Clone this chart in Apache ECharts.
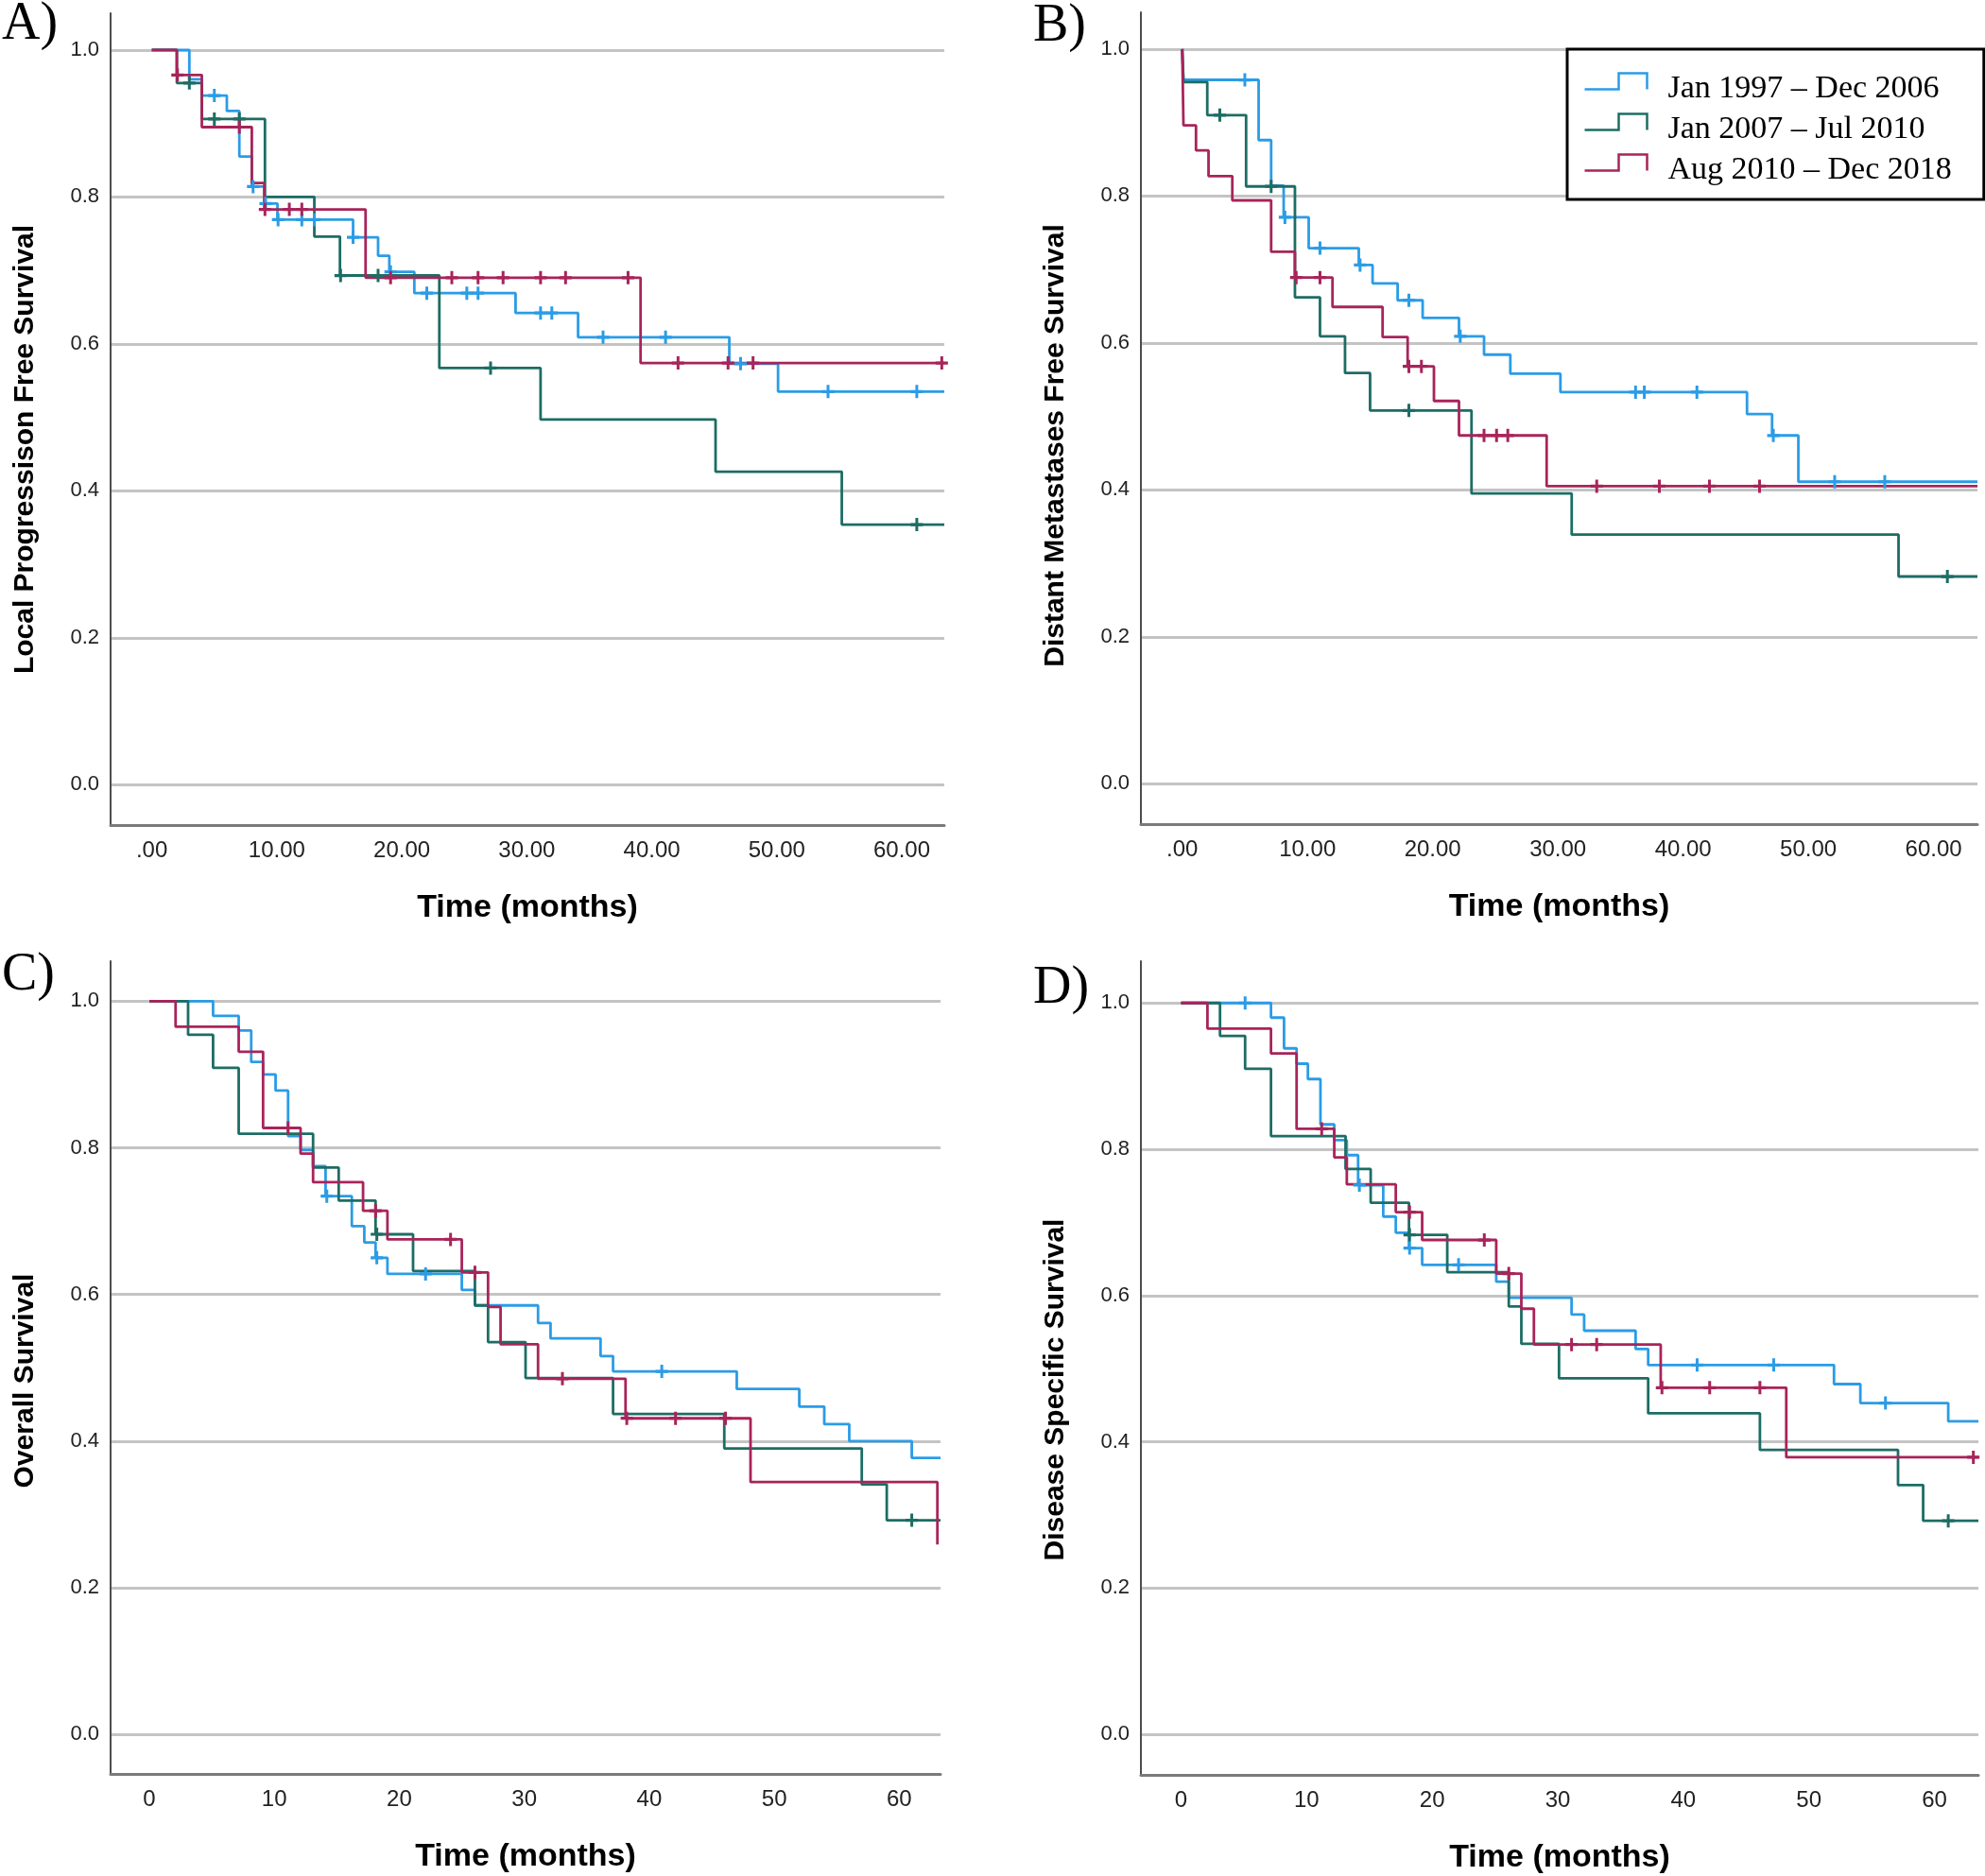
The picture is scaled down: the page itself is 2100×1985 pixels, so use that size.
<!DOCTYPE html>
<html><head><meta charset="utf-8">
<script src="https://cdn.jsdelivr.net/npm/echarts@6/dist/echarts.min.js"></script>
<style>html,body{margin:0;padding:0;background:#fff}#c{width:2100px;height:1985px}</style>
</head><body><div id="c"></div>
<script>
// ---------- DATA ----------
const groups = ['Jan 1997 \u2013 Dec 2006', 'Jan 2007 \u2013 Jul 2010', 'Aug 2010 \u2013 Dec 2018'];
const panelLetters = ['A)', 'B)', 'C)', 'D)'];
const yTitles = ['Local Progressison Free Survival', 'Distant Metastases Free Survival', 'Overall Survival', 'Disease Specific Survival'];
const xTitle = 'Time (months)';
const xTickValues = [0, 10, 20, 30, 40, 50, 60];
const xTickLabelsAB = ['.00', '10.00', '20.00', '30.00', '40.00', '50.00', '60.00'];
const xTickLabelsCD = ['0', '10', '20', '30', '40', '50', '60'];
const yTickValues = [0, 0.2, 0.4, 0.6, 0.8, 1.0];
const yTickLabels = ['0.0', '0.2', '0.4', '0.6', '0.8', '1.0'];

// Panel A: Local progression free survival
const A_blue_t = [0, 3.0, 4.0, 6.0, 7.0, 8.0, 9.0, 10.05, 16.1, 18.1, 19.0, 21.0, 29.1, 34.1, 46.2, 50.1, 63.4];
const A_blue_s = [1, 0.960, 0.938, 0.917, 0.855, 0.814, 0.791, 0.769, 0.745, 0.720, 0.698, 0.669, 0.642, 0.609, 0.573, 0.535, 0.535];
const A_blue_c = [5.0, 8.1, 9.1, 10.1, 12.0, 13.0, 16.1, 19.1, 22.0, 25.2, 26.1, 31.1, 32.0, 36.1, 41.1, 47.1, 54.1, 61.2];
const A_green_t = [0, 2.0, 4.0, 9.05, 13.0, 15.05, 23.0, 31.1, 45.1, 55.2, 63.4];
const A_green_s = [1, 0.955, 0.906, 0.800, 0.746, 0.693, 0.567, 0.497, 0.426, 0.354, 0.354];
const A_green_c = [3.0, 5.0, 7.0, 15.1, 18.1, 27.1, 61.2];
const A_red_t = [0, 2.0, 4.0, 8.0, 9.0, 17.1, 39.1, 63.4];
const A_red_s = [1, 0.966, 0.895, 0.819, 0.783, 0.690, 0.574, 0.574];
const A_red_c = [2.05, 7.0, 9.05, 11.0, 12.0, 19.1, 24.0, 26.1, 28.1, 31.1, 33.1, 38.1, 42.1, 46.1, 48.1, 63.2];

// Panel B: Distant metastases free survival
const B_blue_t = [0, 0.1, 6.1, 7.1, 8.1, 10.1, 14.1, 15.2, 17.2, 19.2, 22.1, 24.1, 26.2, 30.2, 45.1, 47.1, 49.2, 63.5];
const B_blue_s = [1, 0.958, 0.876, 0.814, 0.771, 0.729, 0.706, 0.681, 0.658, 0.634, 0.609, 0.584, 0.558, 0.533, 0.503, 0.474, 0.411, 0.411];
const B_blue_c = [5.0, 8.2, 11.0, 14.2, 18.1, 22.2, 36.2, 36.9, 41.1, 47.2, 52.1, 56.1];
const B_green_t = [0, 0.1, 2.0, 5.1, 9.0, 11.0, 13.0, 15.0, 23.1, 31.1, 57.2, 63.5];
const B_green_s = [1, 0.955, 0.910, 0.813, 0.662, 0.609, 0.559, 0.508, 0.395, 0.339, 0.282, 0.282];
const B_green_c = [3.0, 7.1, 18.1, 61.1];
const B_red_t = [0, 0.1, 1.1, 2.1, 4.0, 7.1, 9.0, 12.0, 16.0, 18.0, 20.1, 22.1, 29.1, 63.5];
const B_red_s = [1, 0.896, 0.862, 0.827, 0.794, 0.724, 0.689, 0.649, 0.608, 0.568, 0.521, 0.474, 0.405, 0.405];
const B_red_c = [9.1, 11.0, 18.1, 19.1, 24.1, 25.1, 26.0, 33.1, 38.1, 42.1, 46.1];

// Panel C: Overall survival
const C_blue_t = [0, 5.1, 7.15, 8.15, 9.1, 10.1, 11.1, 12.1, 13.1, 14.1, 16.2, 17.2, 18.1, 19.05, 25.0, 26.05, 31.1, 32.1, 36.1, 37.1, 47.0, 52.0, 54.0, 56.0, 61.0, 63.3];
const C_blue_s = [1, 0.980, 0.960, 0.917, 0.900, 0.878, 0.816, 0.797, 0.775, 0.734, 0.693, 0.671, 0.650, 0.628, 0.606, 0.585, 0.561, 0.540, 0.516, 0.495, 0.471, 0.447, 0.423, 0.400, 0.377, 0.377];
const C_blue_c = [14.2, 18.2, 22.1, 41.0];
const C_green_t = [0, 3.1, 5.1, 7.15, 13.1, 15.15, 18.1, 21.1, 26.05, 27.1, 30.1, 37.1, 46.0, 57.0, 59.0, 63.3];
const C_green_s = [1, 0.954, 0.909, 0.819, 0.773, 0.728, 0.682, 0.632, 0.585, 0.535, 0.486, 0.437, 0.390, 0.341, 0.292, 0.292];
const C_green_c = [18.2, 61.0];
const C_red_t = [0, 2.1, 7.15, 9.1, 12.1, 13.1, 17.1, 19.05, 25.0, 27.1, 28.1, 31.1, 38.1, 48.1, 63.05];
const C_red_s = [1, 0.965, 0.931, 0.827, 0.792, 0.753, 0.714, 0.675, 0.630, 0.583, 0.532, 0.485, 0.431, 0.344, 0.259];
const C_red_c = [11.1, 18.1, 24.1, 26.05, 33.05, 38.2, 42.1, 46.1];

// Panel D: Disease specific survival
const D_blue_t = [0, 7.16, 8.2, 9.2, 10.1, 11.1, 12.2, 13.2, 14.1, 16.1, 17.1, 18.15, 19.2, 25.1, 26.1, 31.1, 32.1, 36.2, 37.2, 52.0, 54.1, 61.1, 63.5];
const D_blue_s = [1, 0.980, 0.938, 0.917, 0.896, 0.834, 0.8125, 0.792, 0.751, 0.708, 0.686, 0.665, 0.642, 0.619, 0.597, 0.574, 0.552, 0.527, 0.505, 0.479, 0.453, 0.428, 0.428];
const D_blue_c = [5.1, 14.2, 18.2, 22.1, 41.1, 47.2, 56.1];
const D_green_t = [0, 3.1, 5.1, 7.16, 13.1, 15.1, 18.15, 21.2, 26.1, 27.1, 30.1, 37.2, 46.1, 57.1, 59.1, 63.5];
const D_green_s = [1, 0.955, 0.910, 0.818, 0.773, 0.727, 0.683, 0.632, 0.585, 0.534, 0.487, 0.439, 0.389, 0.341, 0.292, 0.292];
const D_green_c = [18.2, 61.1];
const D_red_t = [0, 2.1, 7.16, 9.2, 12.2, 13.2, 17.1, 19.2, 25.1, 27.1, 28.1, 38.2, 48.2, 63.5];
const D_red_s = [1, 0.965, 0.931, 0.828, 0.789, 0.752, 0.714, 0.676, 0.630, 0.582, 0.533, 0.474, 0.379, 0.379];
const D_red_c = [11.2, 18.2, 24.15, 26.1, 31.1, 33.1, 38.3, 42.1, 46.1, 63.1];

// ---------- STYLE / LAYOUT ----------
const colors = ['#2b9ce6', '#1d6d64', '#a8245a'];
const sansFont = "'Liberation Sans', Arial, sans-serif";
const serifFont = "'Liberation Serif', 'Times New Roman', serif";
const plusPath = 'path://M5,0 H8 V5 H13 V8 H8 V13 H5 V8 H0 V5 H5 Z';
const legendIcon = 'path://M0,17 L36,17 L36,0 L66,0 L66,17 M66,34';

const panels = [
  {grid: {left: 117, top: 14, width: 882, height: 859}, xMin: -3.3, xMax: 63.4, yMin: -0.055, yMax: 1.05, xLabels: xTickLabelsAB, namePad: 64,
   curves: [[A_blue_t, A_blue_s, A_blue_c], [A_green_t, A_green_s, A_green_c], [A_red_t, A_red_s, A_red_c]],
   letter: {x: 2, y: -2}},
  {grid: {left: 1207, top: 13, width: 885, height: 859}, xMin: -3.3, xMax: 63.5, yMin: -0.055, yMax: 1.05, xLabels: xTickLabelsAB, namePad: 58,
   curves: [[B_blue_t, B_blue_s, B_blue_c], [B_green_t, B_green_s, B_green_c], [B_red_t, B_red_s, B_red_c]],
   letter: {x: 1093, y: 0}},
  {grid: {left: 117, top: 1017, width: 878, height: 860}, xMin: -3.1, xMax: 63.3, yMin: -0.054, yMax: 1.0545, xLabels: xTickLabelsCD, namePad: 28,
   curves: [[C_blue_t, C_blue_s, C_blue_c], [C_green_t, C_green_s, C_green_c], [C_red_t, C_red_s, C_red_c]],
   letter: {x: 2, y: 1004}},
  {grid: {left: 1207, top: 1017, width: 886, height: 861}, xMin: -3.2, xMax: 63.5, yMin: -0.0553, yMax: 1.0572, xLabels: xTickLabelsCD, namePad: 46,
   curves: [[D_blue_t, D_blue_s, D_blue_c], [D_green_t, D_green_s, D_green_c], [D_red_t, D_red_s, D_red_c]],
   letter: {x: 1093, y: 1018}}
];

function stepPoints(t, s) { return t.map((x, i) => [x, s[i]]); }
function censorPoints(t, s, c) {
  return c.map(x => {
    let k = 0;
    for (let i = 0; i < t.length; i++) if (t[i] <= x) k = i;
    return [x, s[k]];
  });
}

const grids = [], xAxes = [], yAxes = [], series = [], graphics = [];
panels.forEach((p, pi) => {
  grids.push(Object.assign({containLabel: false}, p.grid));
  xAxes.push({
    type: 'value', gridIndex: pi, min: p.xMin, max: p.xMax,
    name: xTitle, nameLocation: 'middle', nameGap: 71,
    nameTextStyle: {fontFamily: sansFont, fontWeight: 'bold', fontSize: 34, color: '#000'},
    axisLine: {onZero: false, lineStyle: {color: '#7a7a7a', width: 3}},
    axisTick: {show: false},
    splitLine: {show: false},
    axisLabel: {customValues: xTickValues, margin: 15, fontFamily: sansFont, fontSize: 24, color: '#222',
      formatter: v => p.xLabels[xTickValues.indexOf(v)]}
  });
  yAxes.push({
    type: 'value', gridIndex: pi, min: p.yMin, max: p.yMax,
    name: yTitles[pi], nameLocation: 'middle', nameGap: 75,
    nameTextStyle: {fontFamily: sansFont, fontWeight: 'bold', fontSize: 30, color: '#000', padding: [0, p.namePad, 0, 0]},
    axisLine: {show: true, onZero: false, lineStyle: {color: '#4d4d4d', width: 2}},
    axisTick: {show: false, customValues: yTickValues},
    splitLine: {show: true, lineStyle: {color: '#c4c4c4', width: 3}},
    axisLabel: {customValues: yTickValues, margin: 12, fontFamily: sansFont, fontSize: 22, color: '#222',
      formatter: v => yTickLabels[yTickValues.indexOf(Math.round(v * 10) / 10)]}
  });
  p.curves.forEach((cv, gi) => {
    series.push({
      type: 'line', name: groups[gi], xAxisIndex: pi, yAxisIndex: pi,
      data: stepPoints(cv[0], cv[1]), step: 'end', showSymbol: false, symbol: 'none',
      lineStyle: {color: colors[gi], width: 2.8}, itemStyle: {color: colors[gi]},
      z: 2 + gi, silent: true, animation: false
    });
    series.push({
      type: 'scatter', name: groups[gi], xAxisIndex: pi, yAxisIndex: pi,
      data: censorPoints(cv[0], cv[1], cv[2]), symbol: plusPath, symbolSize: [13, 14],
      itemStyle: {color: colors[gi], opacity: 1}, z: 6 + gi, silent: true, animation: false
    });
  });
  graphics.push({
    type: 'text', left: p.letter.x, top: p.letter.y,
    style: {text: panelLetters[pi], font: '56px ' + serifFont, fill: '#000'}
  });
});

const chart = echarts.init(document.getElementById('c'));
chart.setOption({
  backgroundColor: '#fff',
  animation: false,
  grid: grids, xAxis: xAxes, yAxis: yAxes, series: series,
  graphic: graphics,
  legend: {
    show: true, orient: 'vertical', left: 1658, top: 52,
    data: groups.map((n, i) => ({name: n, icon: legendIcon,
      itemStyle: {color: 'none', borderColor: colors[i], borderWidth: 2.5}})),
    itemWidth: 66, itemHeight: 34, itemGap: 4,
    padding: [23, 34, 11, 16],
    borderColor: '#000', borderWidth: 3, backgroundColor: '#fff',
    selectedMode: false, z: 10,
    textStyle: {fontFamily: serifFont, fontSize: 34, color: '#000', lineHeight: 34, padding: [0, 0, 0, 17]}
  }
});
</script></body></html>
